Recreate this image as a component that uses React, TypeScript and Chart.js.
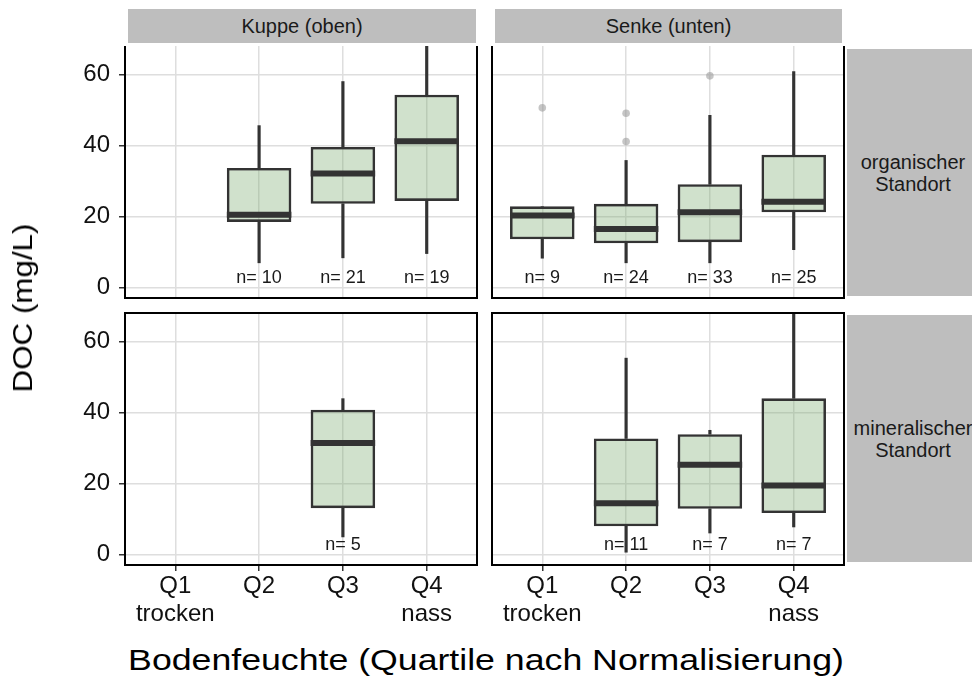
import React, { useEffect, useRef } from 'react';
import { Chart, registerables } from 'chart.js';

Chart.register(...registerables);

const FONT = '"Liberation Sans", Arial, Helvetica, sans-serif';

// ---------- categories / ticks ----------
const xCategories = ['Q1', 'Q2', 'Q3', 'Q4'];
const xTickLabels = [['Q1', 'trocken'], ['Q2'], ['Q3'], ['Q4', 'nass']];
const yTicks = [0, 20, 40, 60];
const colStrips = ['Kuppe (oben)', 'Senke (unten)'];
const rowStrips = [['organischer', 'Standort'], ['mineralischer', 'Standort']];
const yTitle = 'DOC (mg/L)';
const xTitle = 'Bodenfeuchte (Quartile nach Normalisierung)';

// ---------- Kuppe (oben), organischer Standort ----------
const kuppeOrgLow = [null, 7.0, 8.4, 9.6];
const kuppeOrgQ1 = [null, 18.5, 23.6, 24.4];
const kuppeOrgMed = [null, 20.5, 32.1, 41.2];
const kuppeOrgQ3 = [null, 33.7, 39.6, 54.3];
const kuppeOrgHigh = [null, 45.6, 58.0, 72.0];
const kuppeOrgN = [null, 10, 21, 19];
const kuppeOrgOut: [string, number][] = [];

// ---------- Senke (unten), organischer Standort ----------
const senkeOrgLow = [8.3, 7.0, 7.0, 10.7];
const senkeOrgQ1 = [13.6, 12.5, 12.8, 21.2];
const senkeOrgMed = [20.3, 16.5, 21.2, 24.2];
const senkeOrgQ3 = [22.9, 23.6, 29.1, 37.4];
const senkeOrgHigh = [22.9, 35.8, 48.5, 60.8];
const senkeOrgN = [9, 24, 33, 25];
const senkeOrgOut: [string, number][] = [['Q1', 50.6], ['Q2', 49.1], ['Q2', 41.1], ['Q3', 59.6]];

// ---------- Kuppe (oben), mineralischer Standort ----------
const kuppeMinLow = [null, null, 5.0, null];
const kuppeMinQ1 = [null, null, 13.1, null];
const kuppeMinMed = [null, null, 31.4, null];
const kuppeMinQ3 = [null, null, 40.8, null];
const kuppeMinHigh = [null, null, 43.9, null];
const kuppeMinN = [null, null, 5, null];
const kuppeMinOut: [string, number][] = [];

// ---------- Senke (unten), mineralischer Standort ----------
const senkeMinLow = [null, 0.7, 6.1, 7.8];
const senkeMinQ1 = [null, 8.0, 12.9, 11.7];
const senkeMinMed = [null, 14.5, 25.3, 19.5];
const senkeMinQ3 = [null, 32.7, 33.9, 44.0];
const senkeMinHigh = [null, 55.3, 35.0, 72.0];
const senkeMinN = [null, 11, 7, 7];
const senkeMinOut: [string, number][] = [];

const Y_MIN = -2.9;
const Y_MAX = 68.0;
const N_LABEL_Y = 2.7;

type PanelProps = {
  left: number; top: number; width: number; height: number;
  pad: { left: number; right: number; top: number; bottom: number };
  isLeft: boolean; isBottom: boolean;
  low: (number | null)[]; q1: (number | null)[]; med: (number | null)[];
  q3: (number | null)[]; high: (number | null)[]; n: (number | null)[];
  outliers: [string, number][];
};

function makeExtras(med: (number | null)[], n: (number | null)[], fullBorder: boolean) {
  return {
    id: 'boxExtras',
    afterDatasetsDraw(chart: any) {
      const { ctx, chartArea: a, scales } = chart;
      const x = scales.x;
      const y = scales.y;
      const meta = chart.getDatasetMeta(0);
      const w = meta.data.length ? meta.data[0].width : 60;
      ctx.save();
      ctx.beginPath();
      ctx.rect(a.left, a.top, a.right - a.left, a.bottom - a.top);
      ctx.clip();
      ctx.strokeStyle = '#333333';
      ctx.lineWidth = 6;
      med.forEach((m, i) => {
        if (m == null) return;
        const cx = x.getPixelForValue(i + 1);
        const py = y.getPixelForValue(m);
        ctx.beginPath();
        ctx.moveTo(cx - w / 2, py);
        ctx.lineTo(cx + w / 2, py);
        ctx.stroke();
      });
      ctx.fillStyle = '#1a1a1a';
      ctx.font = `18px ${FONT}`;
      ctx.textAlign = 'center';
      ctx.textBaseline = 'middle';
      n.forEach((v, i) => {
        if (v == null) return;
        ctx.fillText(`n= ${v}`, x.getPixelForValue(i + 1), y.getPixelForValue(N_LABEL_Y));
      });
      ctx.restore();

      ctx.save();
      ctx.strokeStyle = '#000000';
      ctx.lineWidth = 2;
      ctx.beginPath();
      if (fullBorder) {
        ctx.rect(a.left, a.top, a.right - a.left, a.bottom - a.top);
      } else {
        ctx.moveTo(a.left, a.top);
        ctx.lineTo(a.left, a.bottom);
        ctx.lineTo(a.right, a.bottom);
        ctx.lineTo(a.right, a.top);
      }
      ctx.stroke();
      ctx.restore();
    },
  };
}

function Panel(p: PanelProps) {
  const ref = useRef<HTMLCanvasElement>(null);
  useEffect(() => {
    const boxData: any[] = [];
    const lowData: any[] = [];
    const highData: any[] = [];
    xCategories.forEach((_, i) => {
      if (p.q1[i] == null) return;
      boxData.push({ x: i + 1, y: [p.q1[i], p.q3[i]] });
      lowData.push({ x: i + 1, y: [p.low[i], p.q1[i]] });
      highData.push({ x: i + 1, y: [p.q3[i], p.high[i]] });
    });
    const outData = p.outliers.map(([c, v]) => ({ x: xCategories.indexOf(c) + 1, y: v }));

    const chart = new Chart(ref.current as HTMLCanvasElement, {
      type: 'bar',
      data: {
        datasets: [
          {
            type: 'bar', data: boxData, backgroundColor: 'rgba(120,170,110,0.35)',
            borderColor: '#333333', borderWidth: 2.6, borderSkipped: false,
            categoryPercentage: 1, barPercentage: 0.77, clip: 0,
          } as any,
          { type: 'bar', data: lowData, backgroundColor: '#333333', barThickness: 2.5, grouped: false, clip: 0 } as any,
          { type: 'bar', data: highData, backgroundColor: '#333333', barThickness: 2.5, grouped: false, clip: 0 } as any,
          {
            type: 'scatter', data: outData, pointRadius: 3.8, borderWidth: 0,
            backgroundColor: 'rgba(150,150,150,0.55)', clip: 0,
          } as any,
        ],
      },
      options: {
        responsive: false,
        animation: false,
        layout: { padding: p.pad, autoPadding: false },
        plugins: { legend: { display: false }, tooltip: { enabled: false } },
        scales: {
          x: {
            type: 'linear', min: 0.4, max: 4.6, offset: false,
            afterBuildTicks: (s: any) => { s.ticks = xCategories.map((_, i) => ({ value: i + 1 })); },
            afterFit: (s: any) => {
              s.height = p.isBottom ? 70 : 0;
              s.paddingLeft = 0; s.paddingRight = 0; s.paddingTop = 0; s.paddingBottom = 0;
            },
            grid: {
              color: '#dedede', lineWidth: 1.5, drawTicks: p.isBottom, tickLength: 6,
              tickColor: '#333333', tickWidth: 1.5, offset: false,
            },
            border: { display: false },
            ticks: {
              display: p.isBottom, padding: 1.5, maxRotation: 0, minRotation: 0, autoSkip: false,
              color: '#111111', font: { size: 24, family: FONT, lineHeight: 1.15 },
              callback: (v: any) => xTickLabels[Math.round(Number(v)) - 1],
            },
          } as any,
          y: {
            type: 'linear', min: Y_MIN, max: Y_MAX,
            afterBuildTicks: (s: any) => { s.ticks = yTicks.map((v) => ({ value: v })); },
            afterFit: (s: any) => {
              s.width = p.isLeft ? 125 : 0;
              s.paddingLeft = 0; s.paddingRight = 0; s.paddingTop = 0; s.paddingBottom = 0;
            },
            grid: {
              color: '#dedede', lineWidth: 1.5, drawTicks: p.isLeft, tickLength: 6,
              tickColor: '#333333', tickWidth: 1.5,
            },
            border: { display: false },
            ticks: {
              display: p.isLeft, padding: 9, color: '#111111',
              font: { size: 24, family: FONT },
            },
          } as any,
        },
      },
      plugins: [makeExtras(p.med, p.n, p.isBottom)],
    });
    return () => chart.destroy();
  }, []);
  return (
    <canvas
      ref={ref}
      width={p.width}
      height={p.height}
      style={{ position: 'absolute', left: p.left, top: p.top, width: p.width, height: p.height }}
    />
  );
}

const stripStyle: React.CSSProperties = {
  position: 'absolute', background: '#bebebe', color: '#1a1a1a', fontSize: 20,
  fontFamily: FONT, display: 'flex', alignItems: 'center', justifyContent: 'center',
  textAlign: 'center', lineHeight: '22px', whiteSpace: 'nowrap',
};

export default function App() {
  const topPad = { left: 0, right: 3, top: 3, bottom: 4 };
  const topPadR = { left: 12, right: 6, top: 3, bottom: 4 };
  const botPad = { left: 0, right: 3, top: 3, bottom: 0 };
  const botPadR = { left: 12, right: 6, top: 3, bottom: 0 };
  return (
    <div style={{ position: 'absolute', left: 0, top: 0, width: 972, height: 681, overflow: 'hidden', background: '#fff', fontFamily: FONT }}>
      <Panel left={0} top={43} width={480} height={259} pad={topPad} isLeft isBottom={false}
        low={kuppeOrgLow} q1={kuppeOrgQ1} med={kuppeOrgMed} q3={kuppeOrgQ3} high={kuppeOrgHigh} n={kuppeOrgN} outliers={kuppeOrgOut} />
      <Panel left={480} top={43} width={370} height={259} pad={topPadR} isLeft={false} isBottom={false}
        low={senkeOrgLow} q1={senkeOrgQ1} med={senkeOrgMed} q3={senkeOrgQ3} high={senkeOrgHigh} n={senkeOrgN} outliers={senkeOrgOut} />
      <Panel left={0} top={310} width={480} height={325} pad={botPad} isLeft isBottom
        low={kuppeMinLow} q1={kuppeMinQ1} med={kuppeMinMed} q3={kuppeMinQ3} high={kuppeMinHigh} n={kuppeMinN} outliers={kuppeMinOut} />
      <Panel left={480} top={310} width={370} height={325} pad={botPadR} isLeft={false} isBottom
        low={senkeMinLow} q1={senkeMinQ1} med={senkeMinMed} q3={senkeMinQ3} high={senkeMinHigh} n={senkeMinN} outliers={senkeMinOut} />

      <div style={{ ...stripStyle, left: 128, top: 9, width: 348, height: 34 }}>{colStrips[0]}</div>
      <div style={{ ...stripStyle, left: 495, top: 9, width: 347, height: 34 }}>{colStrips[1]}</div>
      <div style={{ ...stripStyle, left: 847, top: 49, width: 132, height: 247 }}>
        <div>{rowStrips[0][0]}<br />{rowStrips[0][1]}</div>
      </div>
      <div style={{ ...stripStyle, left: 847, top: 315, width: 132, height: 247 }}>
        <div>{rowStrips[1][0]}<br />{rowStrips[1][1]}</div>
      </div>

      <div style={{
        position: 'absolute', left: 23, top: 308, fontSize: 28, lineHeight: 1, whiteSpace: 'nowrap', color: '#000',
        transform: 'translate(-50%, -50%) rotate(-90deg) scaleX(1.12)',
      }}>{yTitle}</div>
      <div style={{
        position: 'absolute', left: 486, top: 660, fontSize: 29, lineHeight: 1, whiteSpace: 'nowrap', color: '#000',
        transform: 'translate(-50%, -50%) scaleX(1.23)',
      }}>{xTitle}</div>
    </div>
  );
}
